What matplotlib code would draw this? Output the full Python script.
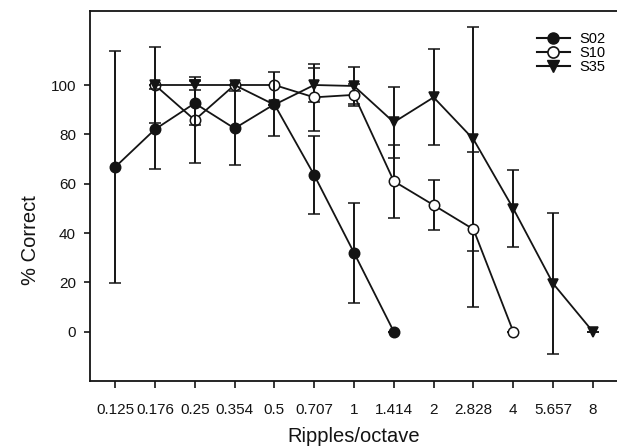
import numpy as np
import matplotlib
matplotlib.use("Agg")
import matplotlib.pyplot as plt
from matplotlib.lines import Line2D

plt.rcParams['font.family'] = ['Liberation Sans', 'DejaVu Sans']

# ripple densities (ripples/octave), plotted at equal spacing
ripples = ['0.125', '0.176', '0.25', '0.354', '0.5', '0.707', '1', '1.414',
           '2', '2.828', '4', '5.657', '8']

# % correct and error bars for each listener
s02_x = [0, 1, 2, 3, 4, 5, 6, 7]
s02_y = [66.7, 82, 92.6, 82.4, 92.2, 63.5, 32, 0]
s02_err = [47, 16.2, 9, 15, 13, 16, 20.2, 0]

s10_x = [1, 2, 3, 4, 5, 6, 7, 8, 9, 10]
s10_y = [100, 85.8, 100, 100, 95, 96, 61, 51.3, 41.5, 0]
s10_err = [15.3, 17.3, 0, 0, 13.5, 4.4, 14.8, 10, 31.3, 0]

s35_x = [1, 2, 3, 4, 5, 6, 7, 8, 9, 10, 11, 12]
s35_y = [100, 100, 100, 92, 100, 99.6, 84.9, 95, 78, 49.9, 19.5, 0]
s35_err = [0, 2, 0, 0, 7, 7.5, 14.4, 19.5, 45.5, 15.6, 28.5, 0]

ink = '#141414'

fig = plt.figure(figsize=(6.17, 4.48), dpi=100)
ax = fig.add_axes([90 / 617, 67 / 448, 528 / 617, 370 / 448])

common = dict(color=ink, lw=1.3, elinewidth=1.4, capsize=4.5, capthick=1.4,
              markersize=7.5, markeredgewidth=1.1, markeredgecolor=ink)
ax.errorbar(s10_x, s10_y, yerr=s10_err, fmt='-o', markerfacecolor='white',
            zorder=2, **common)
ax.errorbar(s35_x, s35_y, yerr=s35_err, fmt='-v', markerfacecolor=ink,
            zorder=2, **common)
ax.errorbar(s02_x, s02_y, yerr=s02_err, fmt='-o', markerfacecolor=ink,
            zorder=3, **common)

ax.set_xlim(-0.63, 12.63)
ax.set_ylim(-20, 130)
ax.set_xticks(range(len(ripples)))
ax.set_xticklabels(ripples)
ax.set_yticks([0, 20, 40, 60, 80, 100])

ax.tick_params(axis='x', direction='out', length=5, width=1.2, pad=11,
               labelsize=11, colors=ink)
ax.tick_params(axis='y', direction='out', length=4, width=1.2, pad=6,
               labelsize=11, colors=ink)
for side in ['left', 'bottom', 'top']:
    ax.spines[side].set_linewidth(1.3)
    ax.spines[side].set_color(ink)
ax.spines['right'].set_visible(False)

ax.set_xlabel('Ripples/octave', fontsize=14.5, color=ink)
ax.set_ylabel('% Correct', fontsize=14.5, color=ink)
ax.xaxis.set_label_coords(0.5, -0.125)
ax.yaxis.set_label_coords(-0.095, 0.38)

handles = [
    Line2D([], [], color=ink, lw=1.5, marker='o', markersize=8,
           markerfacecolor=ink, markeredgecolor=ink),
    Line2D([], [], color=ink, lw=1.5, marker='o', markersize=8,
           markerfacecolor='white', markeredgecolor=ink, markeredgewidth=1.2),
    Line2D([], [], color=ink, lw=1.5, marker='v', markersize=8,
           markerfacecolor=ink, markeredgecolor=ink),
]
ax.legend(handles, ['S02', 'S10', 'S35'], loc='upper left',
          bbox_to_anchor=(0.835, 0.96), frameon=False, fontsize=10.5,
          handlelength=2.3, handletextpad=0.6, labelspacing=0.0,
          borderaxespad=0)

fig.savefig('out.png', dpi=100)
